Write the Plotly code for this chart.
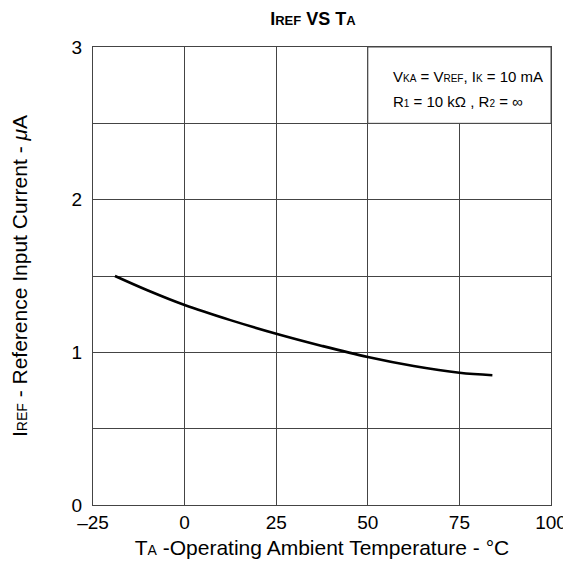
import plotly.graph_objects as go

# Data
temp_c = [-19, -10, 0, 12.5, 25, 37.5, 50, 62.5, 75, 84]
iref_ua = [1.500, 1.405, 1.310, 1.211, 1.122, 1.042, 0.969, 0.910, 0.866, 0.850]

x_tickvals = [-25, 0, 25, 50, 75, 100]
x_ticktext = ["\u201325", "0", "25", "50", "75", "100"]
y_tickvals = [0, 0.5, 1, 1.5, 2, 2.5, 3]
y_ticktext = ["0", "", "1", "", "2", "", "3"]

note_lines = [
    "V<span style='font-size:10px'>KA</span> = V<span style='font-size:10px'>REF</span>, "
    "I<span style='font-size:10px'>K</span> = 10 mA",
    "R<span style='font-size:10px'>1</span> = 10 k\u03a9 , R<span style='font-size:10px'>2</span> = \u221e",
]
note_y = [2.81, 2.645]

FONT = "Liberation Sans, Arial, sans-serif"
GRID = "#444444"

fig = go.Figure()
fig.add_trace(go.Scatter(
    x=temp_c, y=iref_ua, mode="lines",
    line=dict(color="black", width=2.6, shape="spline", smoothing=1.0),
    showlegend=False, hoverinfo="skip",
))

fig.add_shape(type="rect", xref="x", yref="y", x0=50, x1=100, y0=2.5, y1=3,
              fillcolor="white", line=dict(color=GRID, width=1), layer="above")
for txt, yy in zip(note_lines, note_y):
    fig.add_annotation(
        xref="x", yref="y", x=56.3, y=yy, xanchor="left", yanchor="middle",
        align="left", showarrow=False, text=txt,
        font=dict(family=FONT, size=15, color="black"),
    )

fig.update_layout(
    width=571, height=570,
    margin=dict(l=85, r=28, t=39, b=73, autoexpand=False),
    paper_bgcolor="white", plot_bgcolor="white",
    font=dict(family=FONT, color="black"),
    title=dict(
        text="<b>I<span style='font-size:13px'>REF</span> VS T<span style='font-size:13px'>A</span></b>",
        x=0.534, xanchor="center", y=0.982, yanchor="middle",
        font=dict(family=FONT, size=18, color="black"),
    ),
    xaxis=dict(
        range=[-25, 100], tickvals=x_tickvals, ticktext=x_ticktext,
        showgrid=True, gridcolor=GRID, gridwidth=1, zeroline=False,
        showline=True, linecolor=GRID, linewidth=1, mirror=True, automargin=False,
        ticks="", tickfont=dict(family=FONT, size=19, color="black"),
        title=dict(text="T<span style='font-size:14px'>A</span> -Operating Ambient Temperature - \u00b0C",
                   font=dict(family=FONT, size=21, color="black"), standoff=8),
    ),
    yaxis=dict(
        range=[0, 3], tickvals=y_tickvals, ticktext=y_ticktext,
        showgrid=True, gridcolor=GRID, gridwidth=1, zeroline=False,
        showline=True, linecolor=GRID, linewidth=1, mirror=True, automargin=False,
        ticks="", ticklabelstandoff=6, tickfont=dict(family=FONT, size=19, color="black"),
        title=dict(text="I<span style='font-size:14px'>REF</span> - Reference Input Current - <i>\u03bc</i>A",
                   font=dict(family=FONT, size=21, color="black"), standoff=49),
    ),
)

fig.write_html("out.html")
